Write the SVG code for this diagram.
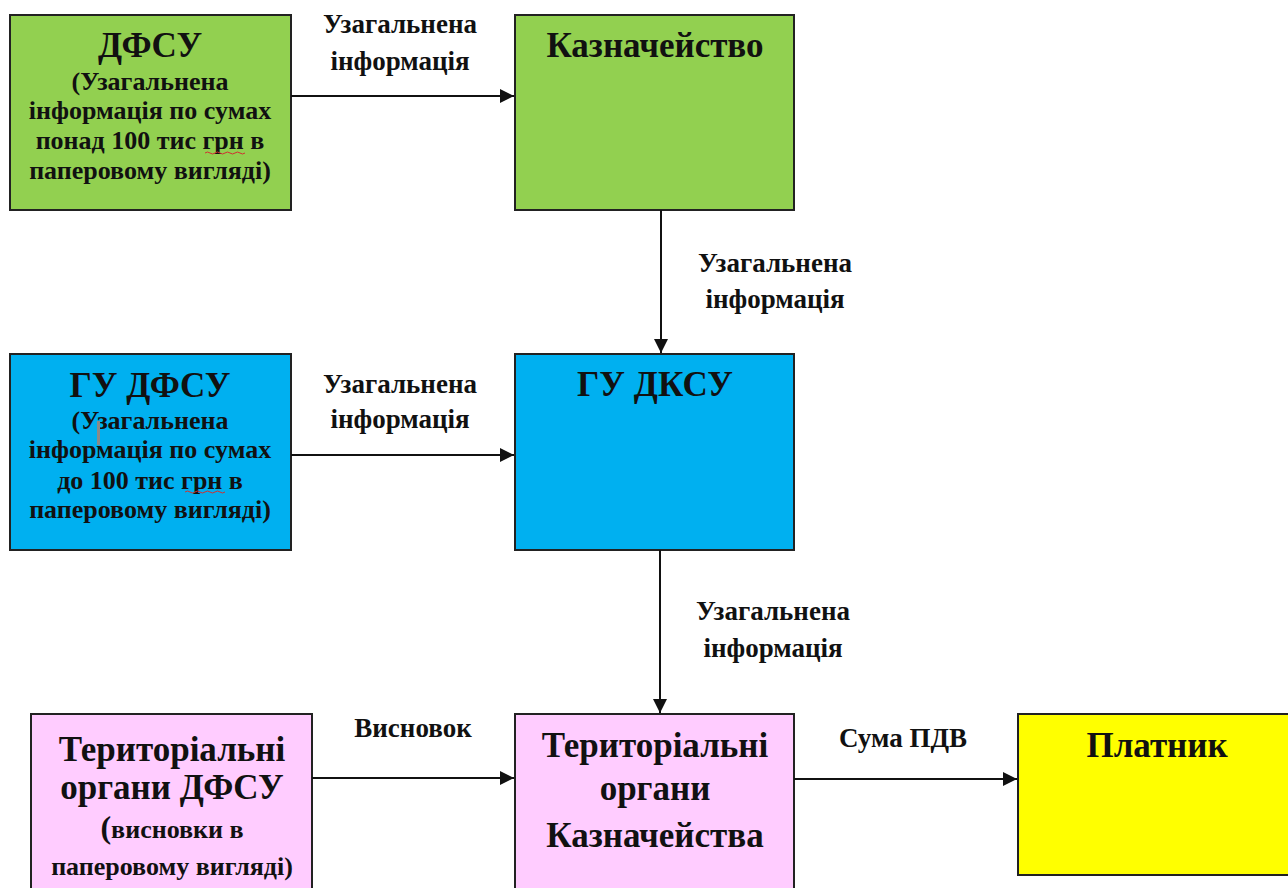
<svg xmlns="http://www.w3.org/2000/svg" width="1288" height="888" viewBox="0 0 1288 888">
<style>
.box{stroke:#222;stroke-width:2}
.t{font-family:"Liberation Serif","Times New Roman",serif;font-weight:bold;fill:#111;text-anchor:middle}
.h{font-size:35px}
.s{font-size:26px}
.l{font-size:27px}
.c{stroke:#111;stroke-width:2;fill:none}
.sq{stroke:#d03030;stroke-width:1;fill:none}
</style>
<defs>
<marker id="ah" viewBox="0 0 10 10" refX="10" refY="5" markerWidth="7" markerHeight="7" markerUnits="strokeWidth" orient="auto">
<path d="M0,0 L10,5 L0,10 Z" fill="#111"/>
</marker>
</defs>
<rect width="1288" height="888" fill="#fff"/>
<g id="dfsu">
<rect class="box" x="10" y="15" width="281" height="195" fill="#92D050"/>
<text class="t h" x="150" y="57">ДФСУ</text>
<text class="t s" x="150" y="90">(Узагальнена</text>
<text class="t s" x="150" y="119">інформація по сумах</text>
<text class="t s" x="150" y="149">понад 100 тис грн в</text>
<text class="t s" x="150" y="179">паперовому вигляді)</text>
<path class="sq" d="M205,153 q2.5,-2 5,0 t5,0 t5,0 t5,0 t5,0 t5,0 t5,0 t5,0"/>
</g>
<g id="kazna">
<rect class="box" x="515" y="15" width="279" height="195" fill="#92D050"/>
<text class="t" style="font-size:35px" x="655" y="57">Казначейство</text>
</g>
<g id="gudfsu">
<rect class="box" x="10" y="354" width="281" height="196" fill="#00B0F0"/>
<text class="t h" x="150" y="397">ГУ ДФСУ</text>
<text class="t s" x="150" y="429">(Узагальнена</text>
<text class="t s" x="150" y="458">інформація по сумах</text>
<text class="t s" x="150" y="489">до 100 тис грн в</text>
<text class="t s" x="150" y="518">паперовому вигляді)</text>
<path class="sq" d="M185,492 q2.5,-2 5,0 t5,0 t5,0 t5,0 t5,0 t5,0 t5,0 t5,0"/>
<rect x="97" y="421" width="3" height="24" fill="#8a8a8a"/>
</g>
<g id="gudksu">
<rect class="box" x="515" y="354" width="279" height="196" fill="#00B0F0"/>
<text class="t h" x="655" y="396">ГУ ДКСУ</text>
</g>
<g id="terdfsu">
<rect class="box" x="31" y="714" width="281" height="190" fill="#FFCCFF"/>
<text class="t h" x="172" y="761">Територіальні</text>
<text class="t h" x="172" y="799">органи ДФСУ</text>
<text class="t s" x="172" y="838"><tspan style="font-size:32px">(</tspan>висновки в</text>
<text class="t s" x="172" y="875">паперовому вигляді)</text>
</g>
<g id="terkazna">
<rect class="box" x="515" y="714" width="279" height="190" fill="#FFCCFF"/>
<text class="t h" x="655" y="757">Територіальні</text>
<text class="t h" x="655" y="800">органи</text>
<text class="t h" x="655" y="847">Казначейства</text>
</g>
<g id="platnyk">
<rect class="box" x="1018" y="714" width="290" height="161" fill="#FFFF00"/>
<text class="t" style="font-size:35px" x="1157" y="757">Платник</text>
</g>
<g id="connectors">
<line class="c" x1="291" y1="96" x2="514" y2="96" marker-end="url(#ah)"/>
<line class="c" x1="661" y1="210" x2="661" y2="353" marker-end="url(#ah)"/>
<line class="c" x1="291" y1="455" x2="514" y2="455" marker-end="url(#ah)"/>
<line class="c" x1="660" y1="550" x2="660" y2="713" marker-end="url(#ah)"/>
<line class="c" x1="312" y1="778" x2="514" y2="778" marker-end="url(#ah)"/>
<line class="c" x1="794" y1="779" x2="1017" y2="779" marker-end="url(#ah)"/>
<text class="t l" x="400" y="33">Узагальнена</text>
<text class="t l" x="400" y="70">інформація</text>
<text class="t l" x="400" y="393">Узагальнена</text>
<text class="t l" x="400" y="428">інформація</text>
<text class="t l" x="775" y="272">Узагальнена</text>
<text class="t l" x="775" y="308">інформація</text>
<text class="t l" x="773" y="620">Узагальнена</text>
<text class="t l" x="773" y="657">інформація</text>
<text class="t l" x="413" y="737">Висновок</text>
<text class="t l" x="903" y="747">Сума ПДВ</text>
</g>
</svg>
